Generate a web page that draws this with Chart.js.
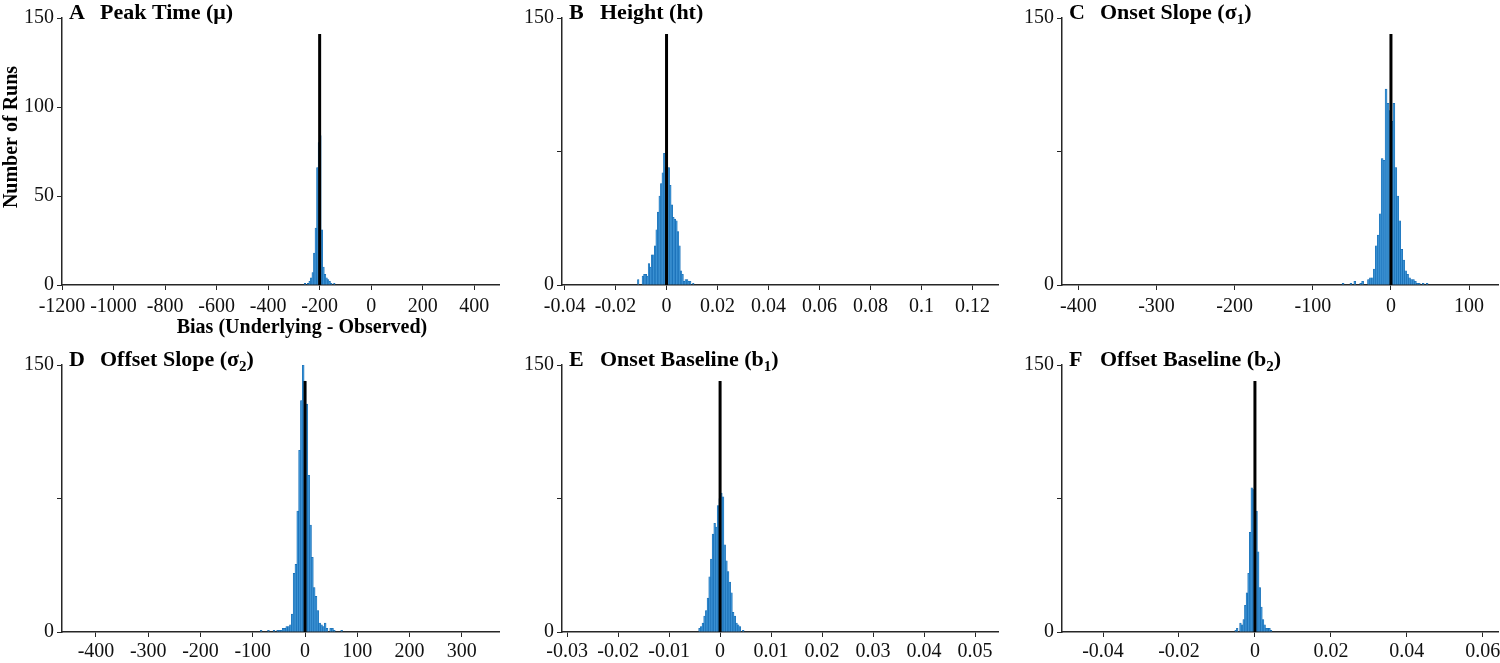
<!DOCTYPE html>
<html>
<head>
<meta charset="utf-8">
<script src="https://cdn.jsdelivr.net/npm/chart.js@4.4.1/dist/chart.umd.min.js"></script>
<style>
  html, body { margin: 0; padding: 0; background: #fff; }
  #wrap { position: relative; width: 1500px; height: 663px; overflow: hidden; }
  canvas { position: absolute; }
</style>
</head>
<body>
<div id="wrap">
  <canvas id="cA" width="500" height="345" style="left:0;top:0"></canvas>
  <canvas id="cB" width="500" height="345" style="left:500px;top:0"></canvas>
  <canvas id="cC" width="500" height="345" style="left:1000px;top:0"></canvas>
  <canvas id="cD" width="500" height="332" style="left:0;top:331px"></canvas>
  <canvas id="cE" width="500" height="332" style="left:500px;top:331px"></canvas>
  <canvas id="cF" width="500" height="332" style="left:1000px;top:331px"></canvas>
</div>
<script>
// Histogram bins: first bin edge, bin width and counts per panel
const binStartA = -260, binWidthA = 6;
const countsA = [1, 0, 1, 2, 4, 7, 18, 32, 66, 80, 84, 31, 10, 6, 4, 3, 2, 1, 0, 1];

const binStartB = -0.012, binWidthB = 0.0006;
const countsB = [0, 3, 0, 0, 5, 6, 6, 5, 12, 10, 17, 17, 22, 31, 41, 50, 57, 63, 74, 66,
                 66, 66, 56, 45, 38, 37, 36, 30, 22, 8, 6, 2, 3, 3, 2, 2, 0, 1];

const binStartC = -62.5, binWidthC = 2.5;
const countsC = [1, 0, 0, 0, 1, 0, 2, 0, 0, 1, 2, 0, 0, 3, 4, 4, 9, 22, 28, 40, 71, 70, 110, 102, 98,
                 92, 102, 66, 50, 36, 20, 14, 8, 6, 4, 3, 3, 2, 1, 1, 0, 1, 0, 1, 0];

const binStartD = -89.25, binWidthD = 3.5;
const countsD = [0, 1, 0, 0, 0, 1, 0, 0, 1, 0, 1, 1, 1, 2, 2, 3, 3, 4, 10, 33, 38, 68, 102, 130, 150,
                 141, 128, 88, 60, 42, 25, 20, 12, 5, 4, 3, 5, 2, 0, 2, 2, 1, 0, 0, 0, 1];

const binStartE = -0.0042, binWidthE = 0.00033;
const countsE = [2, 3, 5, 9, 12, 19, 31, 41, 55, 61, 59, 71, 75, 78, 76, 49, 40, 34, 28, 22, 11, 9, 5, 4, 3, 0, 1];

const binStartF = -0.0053, binWidthF = 0.000425;
const countsF = [1, 2, 0, 5, 4, 7, 15, 22, 33, 56, 81, 80, 78, 68, 45, 25, 14, 7, 4, 2, 2, 2, 1];

// Position of the black reference line and its height
const truthA = -200, truthB = 0, truthC = 0, truthD = 0, truthE = 0, truthF = 0;
const truthLineTop = 141;

// Axis ticks and limits
const xTicksA = [-1200, -1000, -800, -600, -400, -200, 0, 200, 400];
const xRangeA = [-1200, 500];
const xTicksB = [-0.04, -0.02, 0, 0.02, 0.04, 0.06, 0.08, 0.1, 0.12];
const xRangeB = [-0.041, 0.13];
const xTicksC = [-400, -300, -200, -100, 0, 100];
const xRangeC = [-421, 137];
const xTicksD = [-400, -300, -200, -100, 0, 100, 200, 300];
const xRangeD = [-465, 373];
const xTicksE = [-0.03, -0.02, -0.01, 0, 0.01, 0.02, 0.03, 0.04, 0.05];
const xRangeE = [-0.031, 0.0545];
const xTicksF = [-0.04, -0.02, 0, 0.02, 0.04, 0.06];
const xRangeF = [-0.0508, 0.064];

const yTicksA = [0, 50, 100, 150];
const yTicksOther = [0, 75, 150];
const yLabelledOther = [0, 150];

const FONT = "'Liberation Serif', 'Times New Roman', serif";
const AXIS = '#262626';
const BAR_FILL = '#3a90d2';
const BAR_EDGE = '#0b64ae';

function bins(start, width, counts) {
    return counts.map((c, i) => ({ x: start + width * (i + 0.5), y: c }));
}

function fmt(v) {
    return String(Number(v.toFixed(6)));
}

// Panel letter + title inside the top-left of the plot, plus the free-standing axis labels of panel A
const panelText = {
    id: 'panelText',
    afterDraw(chart, args, opts) {
        const { ctx, chartArea } = chart;
        ctx.save();
        ctx.fillStyle = '#000';
        ctx.textBaseline = 'alphabetic';
        const y = chartArea.top + 1;
        ctx.font = `bold 22px ${FONT}`;
        ctx.fillText(opts.letter, chartArea.left + 7, y);
        let x = chartArea.left + 38;
        opts.parts.forEach(p => {
            ctx.font = p.sub ? `bold 15px ${FONT}` : `bold 22px ${FONT}`;
            ctx.fillText(p.t, x, p.sub ? y + 5 : y);
            x += ctx.measureText(p.t).width;
        });
        ctx.font = `bold 20px ${FONT}`;
        ctx.textAlign = 'center';
        if (opts.xLabel) {
            ctx.fillText(opts.xLabel.text, opts.xLabel.x, opts.xLabel.y);
        }
        if (opts.yLabel) {
            ctx.translate(opts.yLabel.x, opts.yLabel.y);
            ctx.rotate(-Math.PI / 2);
            ctx.textBaseline = 'middle';
            ctx.fillText(opts.yLabel.text, 0, 0);
        }
        ctx.restore();
    }
};

function makePanel(id, p) {
    const row1 = p.row === 1;
    new Chart(document.getElementById(id), {
        type: 'bar',
        data: {
            datasets: [
                {
                    type: 'line',
                    data: [{ x: p.truth, y: 0 }, { x: p.truth, y: truthLineTop }],
                    borderColor: '#000', borderWidth: 3, pointRadius: 0, order: 0
                },
                {
                    type: 'bar',
                    data: bins(p.start, p.width, p.counts),
                    backgroundColor: BAR_FILL, borderColor: BAR_EDGE, borderWidth: 0.5,
                    barPercentage: 1, categoryPercentage: 1, order: 1
                }
            ]
        },
        options: {
            responsive: false,
            animation: false,
            layout: { padding: { top: row1 ? 18 : 34, right: p.padRight, left: 0, bottom: 0 } },
            plugins: {
                legend: { display: false },
                tooltip: { enabled: false },
                panelText: { letter: p.letter, parts: p.parts, xLabel: p.xLabel, yLabel: p.yLabel }
            },
            scales: {
                x: {
                    type: 'linear', min: p.range[0], max: p.range[1], offset: false,
                    grid: { drawOnChartArea: false, drawTicks: true, tickLength: 5, color: AXIS, offset: false },
                    border: { display: true, color: AXIS, width: 1.5 },
                    ticks: { font: { family: FONT, size: 20 }, color: '#111', padding: row1 ? 5 : 3,
                             maxRotation: 0, autoSkip: false, callback: v => fmt(v) },
                    afterBuildTicks: s => { s.ticks = p.xTicks.map(v => ({ value: v })); },
                    afterFit: s => { s.height = row1 ? 60 : 31; s.paddingLeft = 0; s.paddingRight = 0; }
                },
                y: {
                    type: 'linear', min: 0, max: 150,
                    grid: { drawOnChartArea: false, drawTicks: true, tickLength: 5, color: AXIS },
                    border: { display: true, color: AXIS, width: 1.5 },
                    ticks: { font: { family: FONT, size: 20 }, color: '#111', padding: 3,
                             callback: v => (p.yLabels.includes(v) ? fmt(v) : '') },
                    afterBuildTicks: s => { s.ticks = p.yTicks.map(v => ({ value: v })); },
                    afterFit: s => { s.width = 62; s.paddingTop = 0; s.paddingBottom = 0; }
                }
            }
        },
        plugins: [panelText]
    });
}

makePanel('cA', { row: 1, letter: 'A', parts: [{ t: 'Peak Time (μ)' }], truth: truthA,
    start: binStartA, width: binWidthA, counts: countsA, xTicks: xTicksA, range: xRangeA,
    yTicks: yTicksA, yLabels: yTicksA, padRight: 0,
    xLabel: { text: 'Bias (Underlying - Observed)', x: 302, y: 333 },
    yLabel: { text: 'Number of Runs', x: 12, y: 137 } });
makePanel('cB', { row: 1, letter: 'B', parts: [{ t: 'Height (ht)' }], truth: truthB,
    start: binStartB, width: binWidthB, counts: countsB, xTicks: xTicksB, range: xRangeB,
    yTicks: yTicksOther, yLabels: yLabelledOther, padRight: 2 });
makePanel('cC', { row: 1, letter: 'C', parts: [{ t: 'Onset Slope (σ' }, { t: '1', sub: true }, { t: ')' }], truth: truthC,
    start: binStartC, width: binWidthC, counts: countsC, xTicks: xTicksC, range: xRangeC,
    yTicks: yTicksOther, yLabels: yLabelledOther, padRight: 2 });
makePanel('cD', { row: 2, letter: 'D', parts: [{ t: 'Offset Slope (σ' }, { t: '2', sub: true }, { t: ')' }], truth: truthD,
    start: binStartD, width: binWidthD, counts: countsD, xTicks: xTicksD, range: xRangeD,
    yTicks: yTicksOther, yLabels: yLabelledOther, padRight: 0 });
makePanel('cE', { row: 2, letter: 'E', parts: [{ t: 'Onset Baseline (b' }, { t: '1', sub: true }, { t: ')' }], truth: truthE,
    start: binStartE, width: binWidthE, counts: countsE, xTicks: xTicksE, range: xRangeE,
    yTicks: yTicksOther, yLabels: yLabelledOther, padRight: 2 });
makePanel('cF', { row: 2, letter: 'F', parts: [{ t: 'Offset Baseline (b' }, { t: '2', sub: true }, { t: ')' }], truth: truthF,
    start: binStartF, width: binWidthF, counts: countsF, xTicks: xTicksF, range: xRangeF,
    yTicks: yTicksOther, yLabels: yLabelledOther, padRight: 2 });
</script>
</body>
</html>
